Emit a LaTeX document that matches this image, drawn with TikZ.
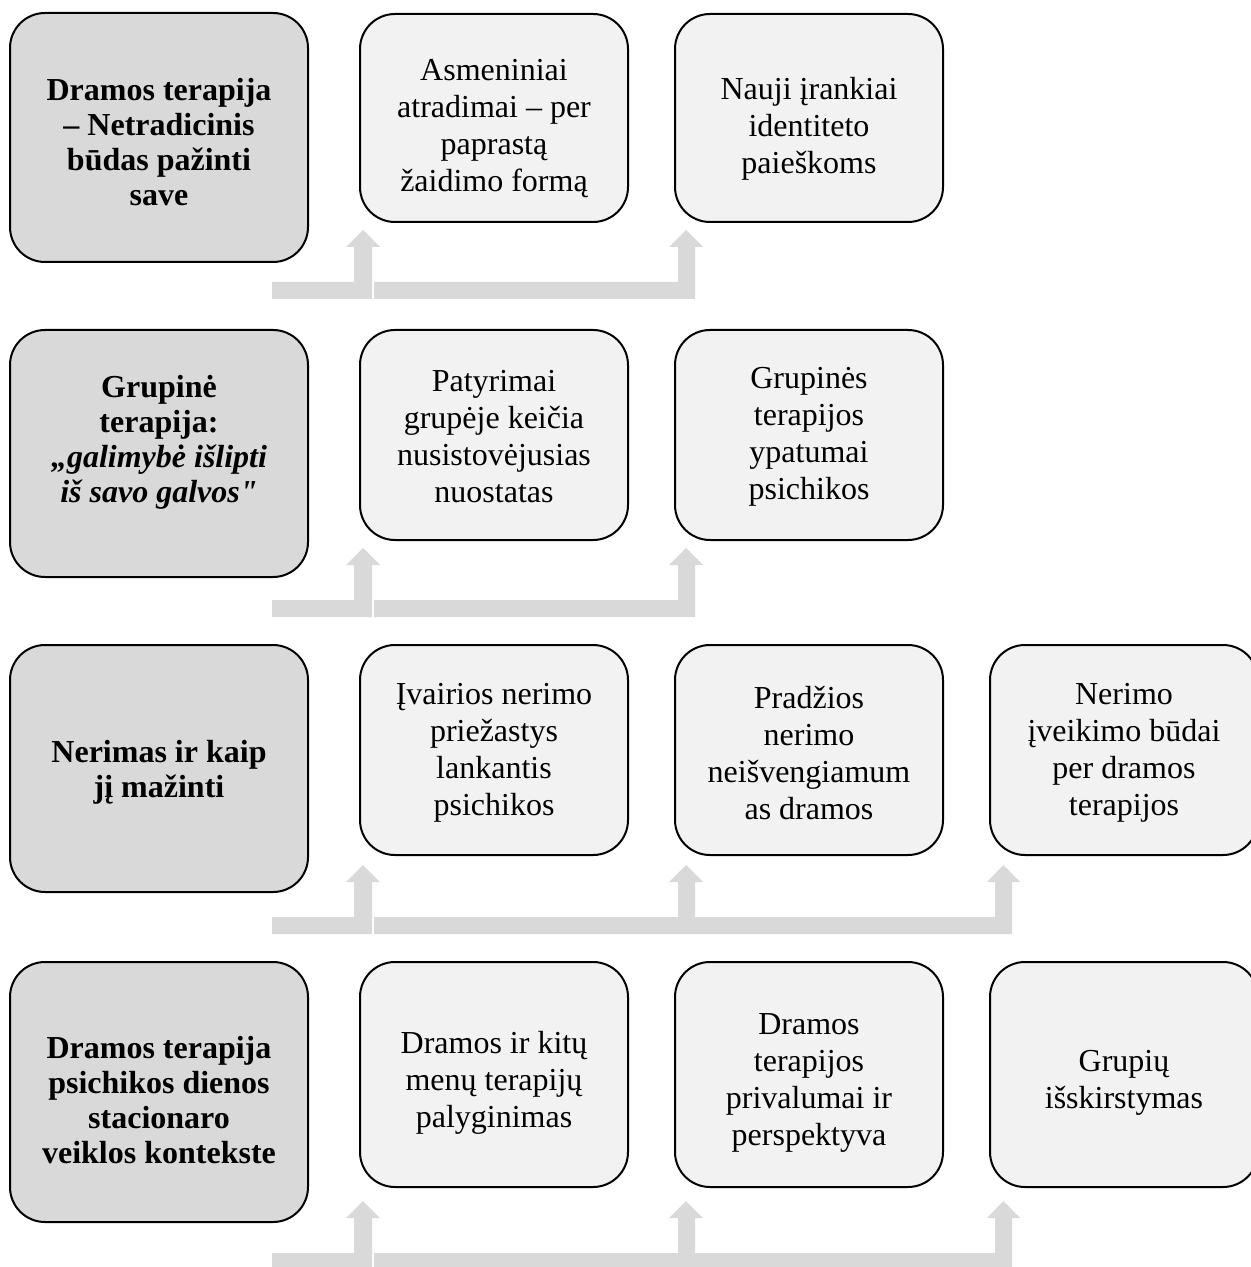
\documentclass[tikz,border=0pt]{standalone}
\usepackage{fontspec}
\setmainfont{Liberation Serif}[Ligatures=TeXOff]
\definecolor{leftfill}{HTML}{D9D9D9}
\definecolor{boxfill}{HTML}{F2F2F2}
\definecolor{arrowfill}{HTML}{D9D9D9}
\tikzset{
  basebox/.style={draw=black, line width=1pt, rounded corners=17.5pt, inner sep=0pt},
  leftbox/.style={basebox, fill=leftfill, minimum width=149pt},
  lightbox/.style={basebox, fill=boxfill, minimum width=134pt},
  lefttext/.style={align=center, inner sep=0pt, font=\fontsize{16}{17.5}\selectfont\bfseries},
  lighttext/.style={align=center, inner sep=0pt, font=\fontsize{16}{18.5}\selectfont},
  blockarrow/.style={fill=arrowfill, draw=none}
}
\begin{document}
\begin{tikzpicture}[x=0.5pt,y=-0.5pt]
\useasboundingbox (0,0) rectangle (1250,1267);
% Row 1
\node[leftbox, minimum height=124.5pt] (l1) at (159,137.5) {};
\node[lightbox, minimum height=104pt] (a1) at (494,118) {};
\node[lightbox, minimum height=104pt] (b1) at (809,118) {};
\node[lefttext] (l1t) at ([yshift=-2.5pt]l1.center) {Dramos terapija\\– Netradicinis\\būdas pažinti\\save};
\node[lighttext] (a1t) at ([yshift=-5.5pt]a1.center) {Asmeniniai\\atradimai – per\\paprastą\\žaidimo formą};
\node[lighttext] (b1t) at ([yshift=-5.5pt]b1.center) {Nauji įrankiai\\identiteto\\paieškoms};
% Row 2
\node[leftbox, minimum height=123.5pt] (l2) at (159,453.5) {};
\node[lightbox, minimum height=105pt] (a2) at (494,435) {};
\node[lightbox, minimum height=105pt] (b2) at (809,435) {};
\node[lefttext] (l2t) at ([yshift=5.5pt]l2.center) {Grupinė\\terapija:\\\textit{„galimybė išlipti}\\\textit{iš savo galvos"}};
\node[lighttext] (a2t) at ([yshift=-1pt]a2.center) {Patyrimai\\grupėje keičia\\nusistovėjusias\\nuostatas};
\node[lighttext] (b2t) at ([yshift=-1pt]b2.center) {Grupinės\\terapijos\\ypatumai\\psichikos};
% Row 3
\node[leftbox, minimum height=123.5pt] (l3) at (159,768.5) {};
\node[lightbox, minimum height=105pt] (a3) at (494,750) {};
\node[lightbox, minimum height=105pt] (b3) at (809,750) {};
\node[lightbox, minimum height=105pt] (c3) at (1124,750) {};
\node[lefttext] (l3t) at ([yshift=-2pt]l3.center) {Nerimas ir kaip\\jį mažinti};
\node[lighttext] (a3t) at ([yshift=-1.5pt]a3.center) {Įvairios nerimo\\priežastys\\lankantis\\psichikos};
\node[lighttext] (b3t) at ([yshift=-1.5pt]b3.center) {Pradžios\\nerimo\\neišvengiamum\\as dramos};
\node[lighttext] (c3t) at ([yshift=-1.5pt]c3.center) {Nerimo\\įveikimo būdai\\per dramos\\terapijos};
% Row 4
\node[leftbox, minimum height=130pt] (l4) at (159,1092) {};
\node[lightbox, minimum height=112.5pt] (a4) at (494,1074.5) {};
\node[lightbox, minimum height=112.5pt] (b4) at (809,1074.5) {};
\node[lightbox, minimum height=112.5pt] (c4) at (1124,1074.5) {};
\node[lefttext] (l4t) at ([yshift=-4pt]l4.center) {Dramos terapija\\psichikos dienos\\stacionaro\\veiklos kontekste};
\node[lighttext] (a4t) at ([yshift=-4pt]a4.center) {Dramos ir kitų\\menų terapijų\\palyginimas};
\node[lighttext] (b4t) at ([yshift=-4pt]b4.center) {Dramos\\terapijos\\privalumai ir\\perspektyva};
\node[lighttext] (c4t) at ([yshift=-4pt]c4.center) {Grupių\\išskirstymas};
% Block arrows: rows 1 and 2 (bar top y0, tip yt)
\foreach \yz/\yt in {282/230, 600/548}{
  \fill[blockarrow] (272,\yz+17) -- (372,\yz+17) -- (372,\yt+17) -- (380,\yt+17) -- (363,\yt)
    -- (346,\yt+17) -- (354,\yt+17) -- (354,\yz) -- (272,\yz) -- cycle;
  \fill[blockarrow] (374,\yz) -- (678,\yz) -- (678,\yt+17) -- (669,\yt+17) -- (686,\yt)
    -- (703,\yt+17) -- (695,\yt+17) -- (695,\yz+17) -- (374,\yz+17) -- cycle;
}
% Block arrows: rows 3 and 4
\foreach \yz/\yt in {917/865, 1253/1201}{
  \fill[blockarrow] (272,\yz+17) -- (372,\yz+17) -- (372,\yt+17) -- (380,\yt+17) -- (363,\yt)
    -- (346,\yt+17) -- (354,\yt+17) -- (354,\yz) -- (272,\yz) -- cycle;
  \fill[blockarrow] (374,\yz) -- (678,\yz) -- (678,\yt+17) -- (669,\yt+17) -- (686,\yt)
    -- (703,\yt+17) -- (695,\yt+17) -- (695,\yz) -- (995,\yz) -- (995,\yt+17) -- (987,\yt+17)
    -- (1003.5,\yt) -- (1020,\yt+17) -- (1012,\yt+17) -- (1012,\yz+17) -- (374,\yz+17) -- cycle;
}
\end{tikzpicture}
\end{document}
